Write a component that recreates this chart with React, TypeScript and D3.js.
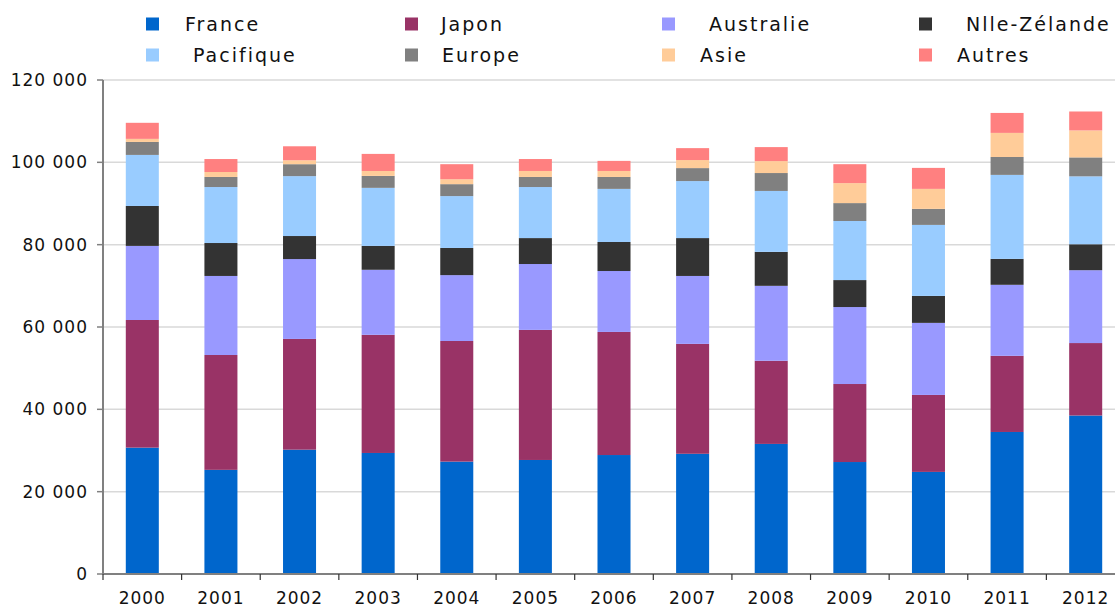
import * as d3 from 'd3';

// categories and series
const years = ['2000', '2001', '2002', '2003', '2004', '2005', '2006', '2007', '2008', '2009', '2010', '2011', '2012'];
const seriesNames = ['France', 'Japon', 'Australie', 'Nlle-Zélande', 'Pacifique', 'Europe', 'Asie', 'Autres'];
const seriesColors = ['#0066CC', '#993366', '#9999FF', '#333333', '#99CCFF', '#808080', '#FFCC99', '#FF8080'];

const france = [30700, 25300, 30200, 29400, 27300, 27700, 28900, 29200, 31600, 27200, 24800, 34500, 38500];
const japon = [31000, 27900, 26900, 28700, 29300, 31600, 29900, 26700, 20200, 18950, 18700, 18500, 17600];
const australie = [18000, 19200, 19400, 15800, 16000, 16000, 14800, 16500, 18200, 18700, 17500, 17250, 17700];
const nlleZelande = [9700, 8000, 5600, 5800, 6600, 6300, 7050, 9200, 8250, 6550, 6550, 6300, 6300];
const pacifique = [12400, 13600, 14550, 14100, 12600, 12400, 12900, 13850, 14800, 14350, 17250, 20400, 16500];
const europe = [3150, 2450, 2900, 2900, 2900, 2450, 2900, 3150, 4350, 4350, 3900, 4350, 4600];
const asie = [750, 1200, 950, 1200, 1200, 1450, 1450, 1950, 2900, 4850, 4850, 5850, 6550];
const autres = [3900, 3150, 3400, 4150, 3650, 2900, 2450, 2900, 3400, 4600, 5100, 4850, 4600];

const yTicks = [0, 20000, 40000, 60000, 80000, 100000, 120000];

const W = 1115;
const H = 606;
const font = '"DejaVu Sans", Verdana, sans-serif';

export default function App() {
  const seriesValues = [france, japon, australie, nlleZelande, pacifique, europe, asie, autres];
  // table for d3.stack, built from the arrays above
  const table = years.map((yr, i) => {
    const row: Record<string, number | string> = { year: yr };
    seriesNames.forEach((s, k) => { row[s] = seriesValues[k][i]; });
    return row;
  });
  const stacked = d3.stack<Record<string, number | string>>().keys(seriesNames)(table as any);

  const x = d3.scaleBand<string>()
    .domain(years)
    .range([103, 1125])
    .paddingInner(0.58)
    .paddingOuter(0.29);
  const y = d3.scaleLinear().domain([0, 120000]).range([574, 80]);

  const fmt = (v: number) => d3.format(',')(v).replace(/,/g, ' ');
  const step = x.step();
  const bandEdges = d3.range(years.length + 1).map((i) => x.range()[0] + i * step);

  // legend: 4 columns x 2 rows
  const legendSquareX = [146, 405, 662, 919];
  const legendTextX = [[185, 441, 709, 966], [193, 442, 700, 957]];
  const legendRowY = [24, 55];

  return (
    <svg width={W} height={H} style={{ position: 'absolute', left: 0, top: 0, background: '#fff' }}>
      {/* gridlines */}
      {yTicks.slice(1).map((t) => (
        <line key={'g' + t} x1={103} x2={W} y1={y(t)} y2={y(t)} stroke="#d9d9d9" strokeWidth={1.5} />
      ))}

      {/* bars */}
      {stacked.map((layer, k) => (
        <g key={seriesNames[k]} fill={seriesColors[k]}>
          {layer.map((d, i) => (
            <rect
              key={years[i]}
              x={x(years[i])}
              y={y(d[1])}
              width={x.bandwidth()}
              height={y(d[0]) - y(d[1])}
            />
          ))}
        </g>
      ))}

      {/* y axis */}
      <line x1={103} x2={103} y1={80} y2={574} stroke="#808080" strokeWidth={2} />
      {yTicks.map((t) => (
        <g key={'yt' + t}>
          <line x1={97} x2={103} y1={y(t)} y2={y(t)} stroke="#808080" strokeWidth={1.5} />
          <text
            x={88}
            y={y(t)}
            dy="0.35em"
            textAnchor="end"
            fontFamily={font}
            fontSize={17}
            letterSpacing={1}
            fill="#111"
          >
            {fmt(t)}
          </text>
        </g>
      ))}

      {/* x axis */}
      <line x1={103} x2={W} y1={574} y2={574} stroke="#808080" strokeWidth={2} />
      {bandEdges.map((bx, i) => (
        <line key={'xt' + i} x1={bx} x2={bx} y1={574} y2={580} stroke="#333" strokeWidth={1.2} />
      ))}
      {years.map((yr) => (
        <text
          key={'xl' + yr}
          x={(x(yr) ?? 0) + x.bandwidth() / 2}
          y={604}
          textAnchor="middle"
          fontFamily={font}
          fontSize={17}
          letterSpacing={1}
          fill="#111"
        >
          {yr}
        </text>
      ))}

      {/* legend */}
      {seriesNames.map((name, k) => {
        const row = Math.floor(k / 4);
        const col = k % 4;
        const cy = legendRowY[row];
        return (
          <g key={'lg' + name}>
            <rect x={legendSquareX[col]} y={cy - 6.5} width={13} height={13} fill={seriesColors[k]} />
            <text
              x={legendTextX[row][col]}
              y={cy}
              dy="0.35em"
              fontFamily={font}
              fontSize={19}
              letterSpacing={2}
              fill="#111"
            >
              {name}
            </text>
          </g>
        );
      })}
    </svg>
  );
}
